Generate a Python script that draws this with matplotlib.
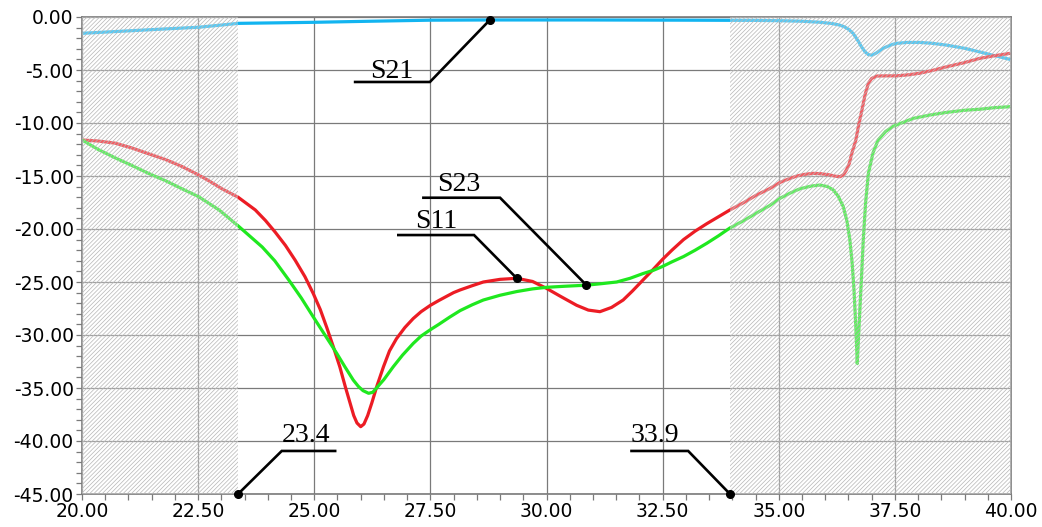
import matplotlib
matplotlib.use('Agg')
import matplotlib.pyplot as plt
from matplotlib.patches import Rectangle
from matplotlib.ticker import MultipleLocator, FormatStrFormatter

# --- data (frequency, dB) ---
s21_f = [20.0, 20.6, 21.25, 21.9, 22.5, 22.95, 23.36, 24.2, 25.0, 26.2, 27.5, 28.78, 30.8,
         33.0, 34.5, 35.03, 35.5, 35.9, 36.15, 36.3, 36.4, 36.5, 36.6, 36.7, 36.78, 36.86,
         36.93, 37.01, 37.1, 37.18, 37.25, 37.38, 37.51, 37.75, 38.04, 38.3, 38.61, 39.0,
         39.33, 39.65, 39.98]
s21_db = [-1.54, -1.4, -1.25, -1.1, -0.97, -0.78, -0.6, -0.55, -0.5, -0.4, -0.3, -0.28, -0.28,
          -0.3, -0.32, -0.35, -0.4, -0.5, -0.62, -0.75, -0.9, -1.15, -1.54, -2.2, -2.8, -3.3,
          -3.55, -3.6, -3.4, -3.15, -2.95, -2.7, -2.5, -2.4, -2.4, -2.48, -2.65, -2.95,
          -3.3, -3.65, -4.0]

s11_f = [20.0, 20.35, 20.71, 21.07, 21.43, 21.8, 22.15, 22.51, 22.75, 23.01, 23.36, 23.73,
         23.95, 24.16, 24.38, 24.59, 24.8, 24.98, 25.13, 25.27, 25.41, 25.55, 25.67, 25.77,
         25.85, 25.92, 26.0, 26.07, 26.15, 26.24, 26.35, 26.49, 26.62, 26.77, 26.95, 27.13,
         27.3, 27.5, 27.68, 27.85, 28.0, 28.14, 28.4, 28.64, 29.0, 29.36, 29.7, 30.0, 30.3,
         30.65, 30.9, 31.15, 31.4, 31.65, 31.85, 32.08, 32.3, 32.49, 32.7, 32.95, 33.2, 33.45,
         33.7, 33.95, 34.25, 34.52, 34.8, 35.03, 35.2, 35.39, 35.55, 35.74, 35.9, 36.1, 36.22,
         36.32, 36.4, 36.46, 36.52, 36.57, 36.62, 36.66, 36.72, 36.79, 36.86, 36.93, 37.0,
         37.11, 37.3, 37.54, 37.8, 38.04, 38.3, 38.61, 39.0, 39.33, 39.65, 39.98]
s11_db = [-11.6, -11.7, -11.9, -12.35, -12.9, -13.45, -14.1, -14.9, -15.5, -16.2, -17.0, -18.2,
          -19.2, -20.3, -21.55, -22.95, -24.5, -26.1, -27.6, -29.3, -31.1, -33.0, -34.9, -36.4,
          -37.6, -38.3, -38.65, -38.4, -37.6, -36.4, -34.8, -33.0, -31.5, -30.35, -29.3, -28.45,
          -27.8, -27.2, -26.75, -26.35, -26.0, -25.75, -25.35, -25.0, -24.75, -24.65, -24.95,
          -25.6, -26.35, -27.2, -27.65, -27.8, -27.4, -26.7, -25.85, -24.8, -23.8, -22.9,
          -22.0, -21.0, -20.2, -19.5, -18.85, -18.2, -17.5, -16.8, -16.2, -15.6, -15.3, -15.0,
          -14.85, -14.75, -14.78, -14.9, -15.02, -15.07, -14.85, -14.4, -13.8, -12.9, -12.2,
          -11.6, -10.2, -8.8, -7.3, -6.25, -5.8, -5.57, -5.55, -5.55, -5.45, -5.3, -5.05, -4.7,
          -4.3, -3.9, -3.65, -3.43]

s23_f = [20.0, 20.35, 20.72, 21.07, 21.43, 21.8, 22.15, 22.51, 22.95, 23.36, 23.62, 23.88,
         24.15, 24.45, 24.72, 24.98, 25.23, 25.48, 25.66, 25.84, 25.95, 26.05, 26.17, 26.26,
         26.34, 26.5, 26.7, 26.9, 27.13, 27.3, 27.5, 27.68, 27.92, 28.14, 28.4, 28.64, 29.0,
         29.36, 29.7, 30.0, 30.4, 30.86, 31.2, 31.51, 31.8, 32.08, 32.3, 32.49, 32.7, 32.95,
         33.2, 33.45, 33.7, 33.95, 34.25, 34.52, 34.8, 35.03, 35.25, 35.46, 35.7, 35.89, 36.05,
         36.17, 36.28, 36.39, 36.47, 36.53, 36.58, 36.62, 36.66, 36.69, 36.72, 36.75, 36.79,
         36.82, 36.87, 36.93, 37.03, 37.14, 37.3, 37.47, 37.7, 37.9, 38.25, 38.61, 39.0, 39.33,
         39.65, 39.98]
s23_db = [-11.6, -12.5, -13.3, -14.0, -14.75, -15.45, -16.2, -16.95, -18.2, -19.7, -20.7, -21.7,
          -23.0, -24.8, -26.5, -28.3, -30.0, -31.7, -33.0, -34.25, -34.85, -35.25, -35.5, -35.4,
          -35.0, -34.2, -33.0, -31.9, -30.8, -30.1, -29.5, -29.0, -28.3, -27.7, -27.15, -26.7,
          -26.25, -25.9, -25.65, -25.5, -25.4, -25.3, -25.15, -25.0, -24.65, -24.2, -23.9,
          -23.55, -23.1, -22.6, -22.0, -21.35, -20.65, -19.9, -19.2, -18.5, -17.8, -17.1,
          -16.6, -16.2, -15.95, -15.85, -16.0, -16.3, -16.9, -17.9, -19.3, -21.0, -23.2, -25.75,
          -29.3, -32.7, -30.0, -27.3, -23.8, -21.0, -17.5, -14.75, -12.8, -11.6, -10.8, -10.3,
          -9.9, -9.56, -9.25, -9.0, -8.8, -8.7, -8.55, -8.46]

# markers: (label, marker x, marker y, elbow x, elbow y, end x, text x, text y)
markers = [
    ('S21', 28.78, -0.28, 27.49, -6.13, 25.88, 26.2, -5.75),
    ('S11', 29.36, -24.65, 28.44, -20.57, 26.81, 27.17, -19.95),
    ('S23', 30.86, -25.3, 29.0, -17.05, 27.35, 27.64, -16.45),
    ('23.4', 23.36, -45.0, 24.3, -40.94, 25.45, 24.3, -40.05),
    ('33.9', 33.95, -45.0, 33.05, -40.94, 31.83, 31.8, -40.05),
]
band_lo, band_hi = 23.36, 33.95

BLUE = '#12b4f0'
RED = '#ec1c24'
GREEN = '#1fe81f'
GRID = '#7a7a7a'

fig = plt.figure(figsize=(10.42, 5.27), dpi=100)
ax = fig.add_axes([82 / 1042, 1 - 494 / 527, (1011 - 82) / 1042, (494 - 17) / 527])

for f, db, c in [(s21_f, s21_db, BLUE), (s11_f, s11_db, RED), (s23_f, s23_db, GREEN)]:
    ax.plot(f, db, color=c, lw=2.3, zorder=2, solid_joinstyle='round',
            solid_capstyle='round')

# hatched out-of-band regions, drawn over the curves
plt.rcParams['hatch.linewidth'] = 0.5
for x0, x1 in [(20, band_lo), (band_hi, 40)]:
    ax.add_patch(Rectangle((x0, -45), x1 - x0, 45, facecolor=(1, 1, 1, 0.3),
                           edgecolor='#b6b6b6', hatch='/' * 8, lw=0, zorder=3))

for lab, mx, my, ex, ey, endx, tx, ty in markers:
    ax.plot([mx, ex, endx], [my, ey, ey], color='black', lw=1.9, zorder=5,
            solid_joinstyle='miter', clip_on=False)
    ax.plot([mx], [my], 'o', color='black', ms=5.5, zorder=6, clip_on=False)
    ax.text(tx, ty, lab, fontsize=20, family='Liberation Serif', color='black',
            ha='left', va='baseline', zorder=6)

ax.set_xlim(20, 40)
ax.set_ylim(-45, 0)
ax.xaxis.set_major_locator(MultipleLocator(2.5))
ax.xaxis.set_minor_locator(MultipleLocator(0.5))
ax.yaxis.set_major_locator(MultipleLocator(5))
ax.yaxis.set_minor_locator(MultipleLocator(1))
ax.xaxis.set_major_formatter(FormatStrFormatter('%.2f'))
ax.yaxis.set_major_formatter(FormatStrFormatter('%.2f'))
ax.grid(True, which='major', color=GRID, lw=0.9, zorder=1)
ax.set_axisbelow(True)
ax.tick_params(which='both', direction='out', length=4, width=0.9, color=GRID,
               labelsize=13.5, labelcolor='black', pad=2)
for s in ax.spines.values():
    s.set_color(GRID)
    s.set_linewidth(1.2)

fig.savefig('out.png', dpi=100)
